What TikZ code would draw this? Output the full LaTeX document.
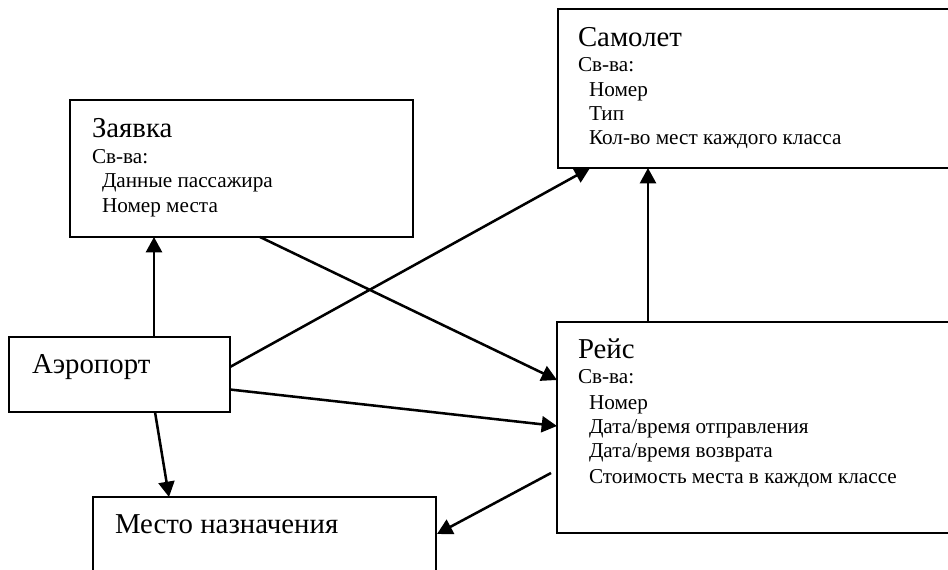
\documentclass[tikz,border=0pt]{standalone}
\usepackage{fontspec}
\setmainfont{Liberation Serif}
\usetikzlibrary{arrows.meta,calc}

\definecolor{c000000}{RGB}{0,0,0}

\tikzset{
  classbox/.style={draw=c000000, line width=1.3pt, anchor=north west},
  title/.style={anchor=base west, font=\fontsize{21.6}{25}\selectfont},
  prop/.style={anchor=base west, font=\fontsize{15.9}{19}\selectfont},
  link/.style={draw=c000000, line width=1.9pt,
    -{Triangle[length=11.5pt, width=12pt]}}
}

\begin{document}
\begin{tikzpicture}[y=0.75pt, x=0.75pt, yscale=-1, inner sep=0pt, outer sep=0pt]
  \useasboundingbox (0,0) rectangle (948,570);
  \clip (0,0) rectangle (948,570);

  % boxes
  \path (558,9) node[classbox, minimum width=300pt, minimum height=119.25pt] (samolet) {};
  \path (70,100) node[classbox, minimum width=257.25pt, minimum height=102.75pt] (zayavka) {};
  \path (9,337) node[classbox, minimum width=165.75pt, minimum height=56.25pt] (aeroport) {};
  \path (557,322) node[classbox, minimum width=300pt, minimum height=158.25pt] (reys) {};
  \path (93,497) node[classbox, minimum width=257.25pt, minimum height=75pt] (mesto) {};

  % Самолет
  \path (578,47) node[title] (samolet-name) {Самолет};
  \path (578,72) node[prop] (samolet-sv) {Св-ва:};
  \path (589,97) node[prop] (samolet-p1) {Номер};
  \path (589,121) node[prop] (samolet-p2) {Тип};
  \path (589,145) node[prop] (samolet-p3) {Кол-во мест каждого класса};

  % Заявка
  \path (92,138) node[title] (zayavka-name) {Заявка};
  \path (92,164) node[prop] (zayavka-sv) {Св-ва:};
  \path (102,188) node[prop] (zayavka-p1) {Данные пассажира};
  \path (102,213) node[prop] (zayavka-p2) {Номер места};

  % Аэропорт
  \path (32,373) node[title] (aeroport-name) {Аэропорт};

  % Рейс
  \path (578,358) node[title] (reys-name) {Рейс};
  \path (578,383) node[prop] (reys-sv) {Св-ва:};
  \path (589,409) node[prop] (reys-p1) {Номер};
  \path (589,433) node[prop] (reys-p2) {Дата/время отправления};
  \path (589,457) node[prop] (reys-p3) {Дата/время возврата};
  \path (589,483) node[prop] (reys-p4) {Стоимость места в каждом классе};

  % Место назначения
  \path (115,533) node[title] (mesto-name) {Место назначения};

  % links
  \draw[link] ($(aeroport.north)+(34.5,0)$) -- ($(zayavka.south)+(-87.5,0)$);
  \draw[link] ($(aeroport.east)+(0,-7.5)$) -- ($(samolet.south)+(-168,0)$);
  \draw[link] ($(zayavka.south)+(18.5,0)$) -- ($(reys.west)+(0,-47.5)$);
  \draw[link] ($(aeroport.east)+(0,15)$) -- ($(reys.west)+(0,-1.5)$);
  \draw[link] ($(reys.north)+(-109,0)$) -- ($(samolet.south)+(-110,0)$);
  \draw[link] ($(aeroport.south)+(35.5,0)$) -- ($(mesto.north)+(-95.5,0)$);
  \draw[link] ($(reys.west)+(-6,45.5)$) -- ($(mesto.east)+(1,-13)$);
\end{tikzpicture}
\end{document}
